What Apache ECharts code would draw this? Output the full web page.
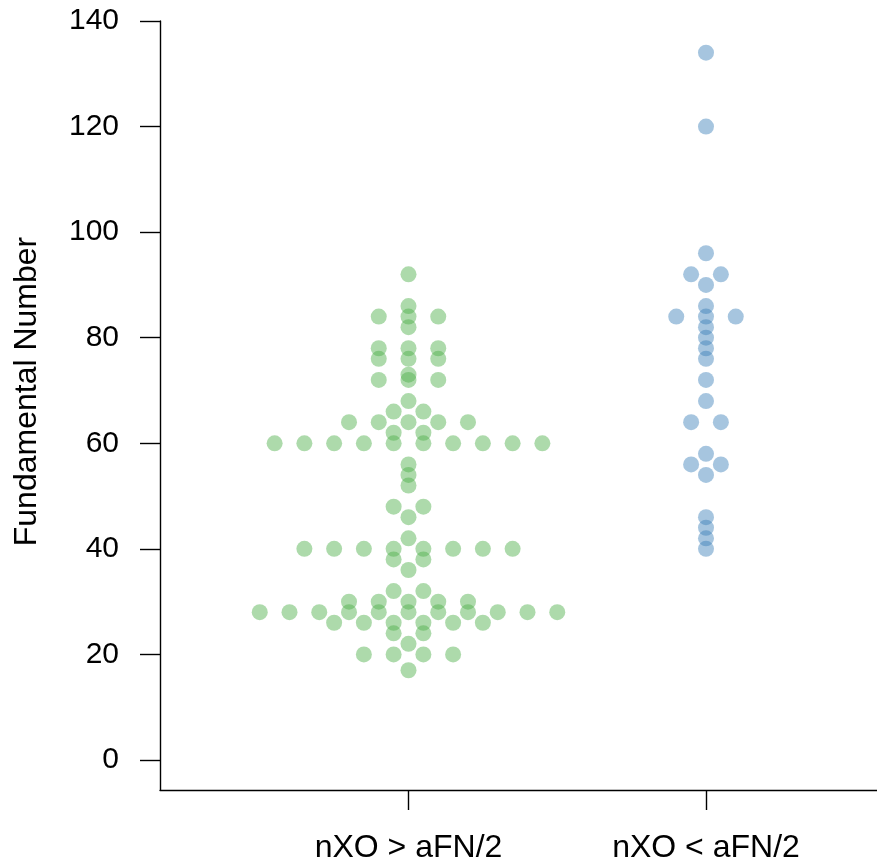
<!DOCTYPE html>
<html>
<head>
<meta charset="utf-8">
<title>Fundamental Number by group</title>
<script src="https://cdn.jsdelivr.net/npm/echarts@6/dist/echarts.min.js"></script>
<style>
  html, body { margin: 0; padding: 0; background: #ffffff; }
  #chart { width: 877px; height: 866px; }
</style>
</head>
<body>
<div id="chart"></div>
<script>
// Group names shown on the horizontal axis
const groupNames = ['nXO > aFN/2', 'nXO < aFN/2'];

// Fundamental Number of each karyotype, one entry per dot
const fnHighXO = [
  92, 86, 84, 84, 84, 82, 78, 78, 78, 76, 76, 76, 73, 72, 72, 72, 68, 66, 66,
  64, 64, 64, 64, 64, 62, 62,
  60, 60, 60, 60, 60, 60, 60, 60, 60, 60,
  56, 54, 52, 48, 48, 46, 42,
  40, 40, 40, 40, 40, 40, 40, 40,
  38, 38, 36, 32, 32,
  30, 30, 30, 30, 30,
  28, 28, 28, 28, 28, 28, 28, 28, 28, 28, 28,
  26, 26, 26, 26, 26, 26, 24, 24, 22,
  20, 20, 20, 20, 17
];
const fnLowXO = [
  134, 120, 96, 92, 92, 90, 86, 84, 84, 84, 82, 80, 78, 76, 72, 68,
  64, 64, 58, 56, 56, 54, 46, 44, 42, 40
];

// Value-axis ticks
const yTicks = [0, 20, 40, 60, 80, 100, 120, 140];

// Horizontal spacing between dots sharing the same value (x-axis units)
const DOT_STEP = 0.1;

// Spread tied values symmetrically around the group centre
function swarm(values, centre) {
  const counts = new Map();
  values.forEach(v => counts.set(v, (counts.get(v) || 0) + 1));
  const pts = [];
  counts.forEach((n, v) => {
    for (let i = 0; i < n; i++) {
      pts.push([centre + (i - (n - 1) / 2) * DOT_STEP, v]);
    }
  });
  return pts;
}

const chart = echarts.init(document.getElementById('chart'), null, { renderer: 'canvas' });

const axisColor = '#000000';
const fontFamily = '"Liberation Sans", Arial, Helvetica, sans-serif';

chart.setOption({
  animation: false,
  backgroundColor: '#ffffff',
  grid: { left: 160, right: 0, top: 21, bottom: 76, containLabel: false },
  xAxis: {
    type: 'value',
    min: 0.1647,
    max: 2.5748,
    splitLine: { show: false },
    axisLine: { show: true, onZero: false, lineStyle: { color: axisColor, width: 1.4 } },
    axisTick: {
      show: true,
      customValues: [1, 2],
      length: 20,
      lineStyle: { color: axisColor, width: 1.4 }
    },
    axisLabel: {
      customValues: [1, 2],
      formatter: v => groupNames[Math.round(v) - 1] || '',
      color: axisColor,
      fontFamily: fontFamily,
      fontSize: 32,
      margin: 42
    }
  },
  yAxis: {
    type: 'value',
    min: -5.683,
    max: 140,
    name: 'Fundamental Number',
    nameLocation: 'middle',
    nameGap: 117,
    nameRotate: 90,
    nameTextStyle: {
      color: axisColor,
      fontFamily: fontFamily,
      fontSize: 32,
      padding: [0, 0, 0, 28]
    },
    splitLine: { show: false },
    axisLine: { show: true, onZero: false, lineStyle: { color: axisColor, width: 1.4 } },
    axisTick: {
      show: true,
      customValues: yTicks,
      length: 20,
      lineStyle: { color: axisColor, width: 1.4 }
    },
    axisLabel: {
      customValues: yTicks,
      color: axisColor,
      fontFamily: fontFamily,
      fontSize: 30,
      margin: 41
    }
  },
  series: [
    {
      name: groupNames[0],
      type: 'scatter',
      symbol: 'circle',
      symbolSize: 16,
      data: swarm(fnHighXO, 1),
      itemStyle: { color: 'rgba(77,175,74,0.58)' },
      emphasis: { disabled: true }
    },
    {
      name: groupNames[1],
      type: 'scatter',
      symbol: 'circle',
      symbolSize: 16,
      data: swarm(fnLowXO, 2),
      itemStyle: { color: 'rgba(55,126,184,0.56)' },
      emphasis: { disabled: true }
    }
  ]
});
</script>
</body>
</html>
